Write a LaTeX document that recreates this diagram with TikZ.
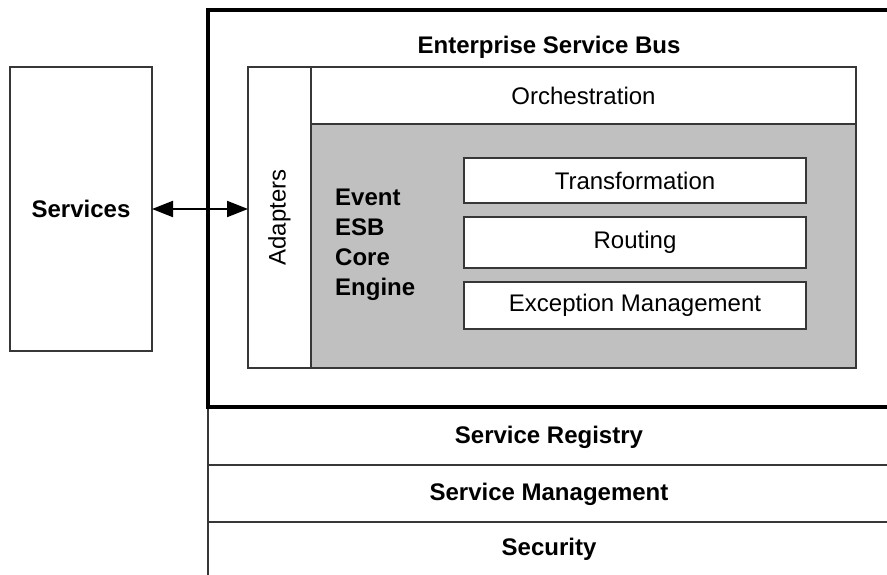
\documentclass[tikz,border=0pt]{standalone}
\usepackage{fontspec}
\setmainfont{Liberation Sans}
\usetikzlibrary{arrows.meta}
\definecolor{edge}{RGB}{55,55,55}
\definecolor{coregray}{RGB}{192,192,192}
\tikzset{
  box/.style={draw=edge, line width=1.4pt, fill=white, inner sep=0pt, outer sep=0pt},
  txt/.style={font=\fontsize{24}{28}\selectfont},
  btxt/.style={font=\fontsize{24}{30}\selectfont\bfseries},
  layer/.style={draw=edge, line width=1.4pt},
  bus/.style={draw=black, line width=3.6pt},
  link/.style={line width=2pt, {Triangle[length=21pt,width=16pt]}-{Triangle[length=21pt,width=16pt]}}
}
\begin{document}
\begin{tikzpicture}[x=1pt,y=-1pt]
\useasboundingbox (0,0) rectangle (887,575);
\fill[white] (0,0) rectangle (887,575);
\begin{scope}
\clip (0,0) rectangle (887,575);
% bottom layers
\draw[layer] (208,407) -- (208,590);
\draw[layer] (208,465) -- (900,465);
\draw[layer] (208,522) -- (900,522);
% ESB outer box
\draw[bus] (208,10) rectangle (900,407);
\end{scope}
\node[btxt] (reg) at (549,437) {Service Registry};
\node[btxt] (mgmt) at (549,494) {Service Management};
\node[btxt] (sec) at (549,549) {Security};
\node[btxt] (title) at (549,47) {Enterprise Service Bus};
% services
\node[box, btxt, minimum width=142pt, minimum height=284pt] (services) at (81,209) {Services};
% adapters
\node[box, minimum width=63pt, minimum height=301pt] (adapters) at (279.5,217.5) {};
\node[txt, rotate=90] (adlabel) at (adapters.center) {Adapters};
% orchestration
\node[box, txt, minimum width=545pt, minimum height=57pt] (orch) at (583.5,95.5) {Orchestration};
% core
\node[box, fill=coregray, minimum width=545pt, minimum height=244pt] (core) at (583.5,246) {};
\node[btxt, align=left, anchor=north west, inner sep=0pt] (engine) at (335,189) {Event\\ESB\\Core\\Engine};
\node[box, txt, minimum width=342pt, minimum height=45pt] (trans) at (635,180.5) {Transformation};
\node[box, txt, minimum width=342pt, minimum height=51pt] (route) at (635,242.5) {Routing};
\node[box, txt, minimum width=342pt, minimum height=47pt] (exc) at (635,305.5) {Exception Management};
% link
\draw[link] (services.east) -- (services.east -| adapters.west);
\end{tikzpicture}
\end{document}
